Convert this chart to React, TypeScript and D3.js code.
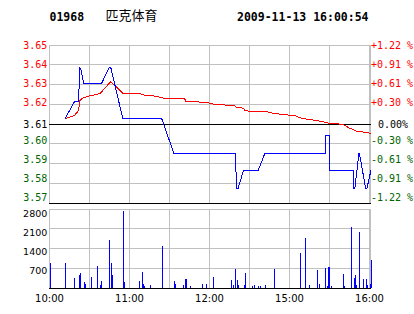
import React from "react";
import * as d3 from "d3";

// ---------- data ----------
const stockCode = "01968";
const stockName = "匹克体育";
const stamp = "2009-11-13 16:00:54";
const prevClose = 3.61;
const priceDomain = [3.566, 3.654];
const priceLabels = ["3.65", "3.64", "3.63", "3.62", "3.61", "3.60", "3.59", "3.58", "3.57"];
const pctLabels = ["+1.22 %", "+0.91 %", "+0.61 %", "+0.30 %", "0.00%", "-0.30 %", "-0.61 %", "-0.91 %", "-1.22 %"];
const volTicks = [2800, 2100, 1400, 700];
const volMax = 2800;
const timeLabels = ["10:00", "11:00", "12:00", "15:00", "16:00"];

const priceTimes = ["10:12", "10:19", "10:22", "10:23", "10:24", "10:26", "10:39", "10:45", "10:46", "10:55", "11:24", "11:33", "12:19", "12:19", "12:20", "12:21", "12:25", "14:36", "14:41", "15:26", "15:26", "15:29", "15:29", "15:47", "15:47", "15:48", "15:51", "15:52", "15:56", "15:57", "16:00"];
const priceValues = [3.613, 3.6225, 3.6225, 3.6416, 3.6397, 3.6323, 3.6323, 3.6416, 3.6416, 3.613, 3.613, 3.5938, 3.5938, 3.5891, 3.5743, 3.5743, 3.5843, 3.5843, 3.5938, 3.5938, 3.6036, 3.6036, 3.5843, 3.5843, 3.5743, 3.5743, 3.5938, 3.591, 3.5743, 3.5743, 3.5843];

const avgTimes = ["10:12", "10:19", "10:22", "10:23", "10:25", "10:30", "10:38", "10:46", "10:50", "10:55", "11:07", "11:10", "11:17", "11:24", "11:25", "11:41", "11:42", "11:58", "12:01", "12:08", "12:18", "12:20", "12:25", "12:26", "14:43", "14:44", "14:51", "14:57", "15:03", "15:08", "15:18", "15:26", "15:29", "15:39", "15:44", "15:50", "15:55", "16:00"];
const avgValues = [3.6129, 3.6147, 3.6175, 3.623, 3.6244, 3.6256, 3.6269, 3.6336, 3.6308, 3.6271, 3.6271, 3.6262, 3.6258, 3.6247, 3.6244, 3.6244, 3.6225, 3.6221, 3.6212, 3.6207, 3.6203, 3.6192, 3.6188, 3.6173, 3.6169, 3.6164, 3.6156, 3.6151, 3.6147, 3.6132, 3.6121, 3.611, 3.6102, 3.6099, 3.6077, 3.6058, 3.6055, 3.6047];

const volTimes = ["10:01", "10:12", "10:19", "10:22", "10:23", "10:26", "10:27", "10:31", "10:36", "10:38", "10:39", "10:45", "10:46", "10:47", "10:55", "10:56", "11:07", "11:09", "11:10", "11:11", "11:15", "11:24", "11:33", "11:34", "11:40", "11:41", "11:42", "11:45", "11:54", "11:57", "12:02", "12:16", "12:17", "12:19", "12:20", "12:21", "12:25", "12:26", "14:31", "14:33", "14:36", "14:37", "14:41", "14:48", "15:07", "15:11", "15:14", "15:20", "15:21", "15:26", "15:27", "15:28", "15:29", "15:30", "15:39", "15:40", "15:45", "15:47", "15:48", "15:49", "15:51", "15:54", "15:56", "15:57", "15:59", "16:00"];
const volValues = [890, 890, 356, 462, 534, 214, 142, 391, 783, 107, 249, 1708, 890, 462, 2740, 214, 249, 569, 142, 71, 107, 1494, 249, 142, 107, 320, 320, 71, 142, 142, 391, 285, 107, 676, 285, 107, 107, 534, 71, 107, 71, 71, 107, 676, 1245, 1779, 107, 640, 142, 712, 71, 747, 747, 71, 498, 71, 2170, 356, 462, 107, 1992, 320, 320, 107, 142, 996];

// ---------- helpers ----------
const toIdx = (t: string) => {
  const [h, m] = t.split(":").map(Number);
  const mins = h * 60 + m;
  return mins <= 12 * 60 + 30 ? mins - 600 : 150 + (mins - (14 * 60 + 30));
};

const W = 414;
const H = 314;
const L = 49;
const R = 371;
const pTop = 45;
const pBot = 203;
const vTop = 209;
const vBot = 288;

const GRID = "#c0c0c0";
const RED = "#ff0000";
const GREEN = "#006400";
const MONO = "'DejaVu Sans Mono', monospace";
const SANS = "'DejaVu Sans', sans-serif";

export default function App() {
  const x = d3.scaleLinear().domain([0, 240]).range([L, R]);
  const xg = d3.scaleLinear().domain([0, 240]).range([L, R - 2]);
  const y = d3.scaleLinear().domain(priceDomain).range([pBot, pTop]);
  const yv = d3.scaleLinear().domain([0, volMax]).range([vBot, vTop]);
  const labelY = d3.scaleLinear().domain([0, 8]).range([pTop + 0.3, pTop + 0.3 + 8 * 19]);
  const volLabelY = d3.scaleLinear().domain([0, 3]).range([vTop + 4, vTop + 4 + 3 * 19]);

  const priceTicks = d3.range(9).map((i) => priceDomain[1] - (i * (priceDomain[1] - priceDomain[0])) / 8);
  const gridIdx = d3.range(0, 241, 30);

  const line = d3
    .line<[number, number]>()
    .x((d) => x(d[0]))
    .y((d) => y(d[1]));
  const pricePath = line(priceTimes.map((t, i) => [toIdx(t), priceValues[i]]));
  const avgPath = line(avgTimes.map((t, i) => [toIdx(t), avgValues[i]]));

  const labelColor = (i: number) => (i < 4 ? RED : i === 4 ? "#000" : GREEN);
  const crisp = (v: number) => Math.floor(v) + 0.5;

  return (
    <svg
      width={W}
      height={H}
      style={{ position: "absolute", left: 0, top: 0, background: "#fff" }}
    >
      <rect x={0} y={0} width={W} height={H} fill="#fff" />
      {/* header */}
      <text x={49.5} y={20.5} fontFamily={MONO} fontWeight="bold" fontSize={11.5} fill="#000">
        {stockCode}
      </text>
      <text x={105.5} y={19.5} fontFamily="'Noto Sans CJK SC', sans-serif" fontSize={13} fill="#000">
        {stockName}
      </text>
      <text x={237} y={20.5} fontFamily={MONO} fontWeight="bold" fontSize={11.5} fill="#000">
        {stamp}
      </text>

      {/* price panel grid */}
      <g shapeRendering="crispEdges" stroke={GRID} strokeWidth={1}>
        {priceTicks.map((v, i) =>
          i === 4 || i === 8 ? null : (
            <line key={"ph" + i} x1={L} x2={R} y1={crisp(y(v))} y2={crisp(y(v))} />
          )
        )}
        {gridIdx.map((g, i) => (
          <line key={"pv" + i} x1={crisp(xg(g))} x2={crisp(xg(g))} y1={pTop} y2={pBot} />
        ))}
        <line x1={R - 0.5} x2={R - 0.5} y1={pTop} y2={pBot} />
      </g>
      <g shapeRendering="crispEdges" stroke="#000" strokeWidth={1}>
        <line x1={L} x2={R} y1={crisp(y(prevClose))} y2={crisp(y(prevClose))} />
        <line x1={L} x2={R} y1={crisp(y(priceDomain[0]))} y2={crisp(y(priceDomain[0]))} />
      </g>

      {/* price labels */}
      {priceLabels.map((s, i) => (
        <text
          key={"pl" + i}
          x={47.3}
          y={(i === 4 ? y(prevClose) : labelY(i)) + 3.7}
          textAnchor="end"
          fontFamily={MONO}
          fontSize={10}
          fill={labelColor(i)}
        >
          {s}
        </text>
      ))}
      {pctLabels.map((s, i) => (
        <text
          key={"pr" + i}
          x={i === 4 ? 378 : 371}
          y={(i === 4 ? y(prevClose) : labelY(i)) + 3.7}
          fontFamily={MONO}
          fontSize={10}
          fill={labelColor(i)}
        >
          {s}
        </text>
      ))}

      {/* lines */}
      <path d={avgPath || ""} fill="none" stroke={RED} strokeWidth={1} shapeRendering="crispEdges" />
      <path d={pricePath || ""} fill="none" stroke="#0000ff" strokeWidth={1} shapeRendering="crispEdges" />

      {/* volume panel grid */}
      <g shapeRendering="crispEdges" stroke={GRID} strokeWidth={1}>
        {volTicks.map((v, i) => (
          <line key={"vh" + i} x1={L} x2={R} y1={crisp(yv(v))} y2={crisp(yv(v))} />
        ))}
        {gridIdx.map((g, i) => (
          <line key={"vv" + i} x1={crisp(xg(g))} x2={crisp(xg(g))} y1={vTop} y2={vBot} />
        ))}
        <line x1={R - 0.5} x2={R - 0.5} y1={vTop} y2={vBot} />
      </g>
      <g shapeRendering="crispEdges" fill="#0000ff">
        {volTimes.map((t, i) => {
          const yy = yv(volValues[i]);
          return (
            <rect key={"b" + i} x={Math.round(x(toIdx(t)))} y={yy} width={1} height={vBot - yy} />
          );
        })}
      </g>
      <line x1={L} x2={R} y1={vBot + 0.5} y2={vBot + 0.5} stroke="#000" shapeRendering="crispEdges" />

      {/* volume labels */}
      {volTicks.map((v, i) => (
        <text
          key={"vl" + i}
          x={47.3}
          y={volLabelY(i) + 3.5}
          textAnchor="end"
          fontFamily={SANS}
          fontSize={9.5}
          fill="#000"
        >
          {v}
        </text>
      ))}

      {/* time labels */}
      {timeLabels.map((t, i) => (
        <text
          key={"tl" + i}
          x={xg(toIdx(t)) + 0.5}
          y={301.5}
          textAnchor="middle"
          fontFamily={SANS}
          fontSize={10}
          fill="#000"
        >
          {t}
        </text>
      ))}
    </svg>
  );
}
